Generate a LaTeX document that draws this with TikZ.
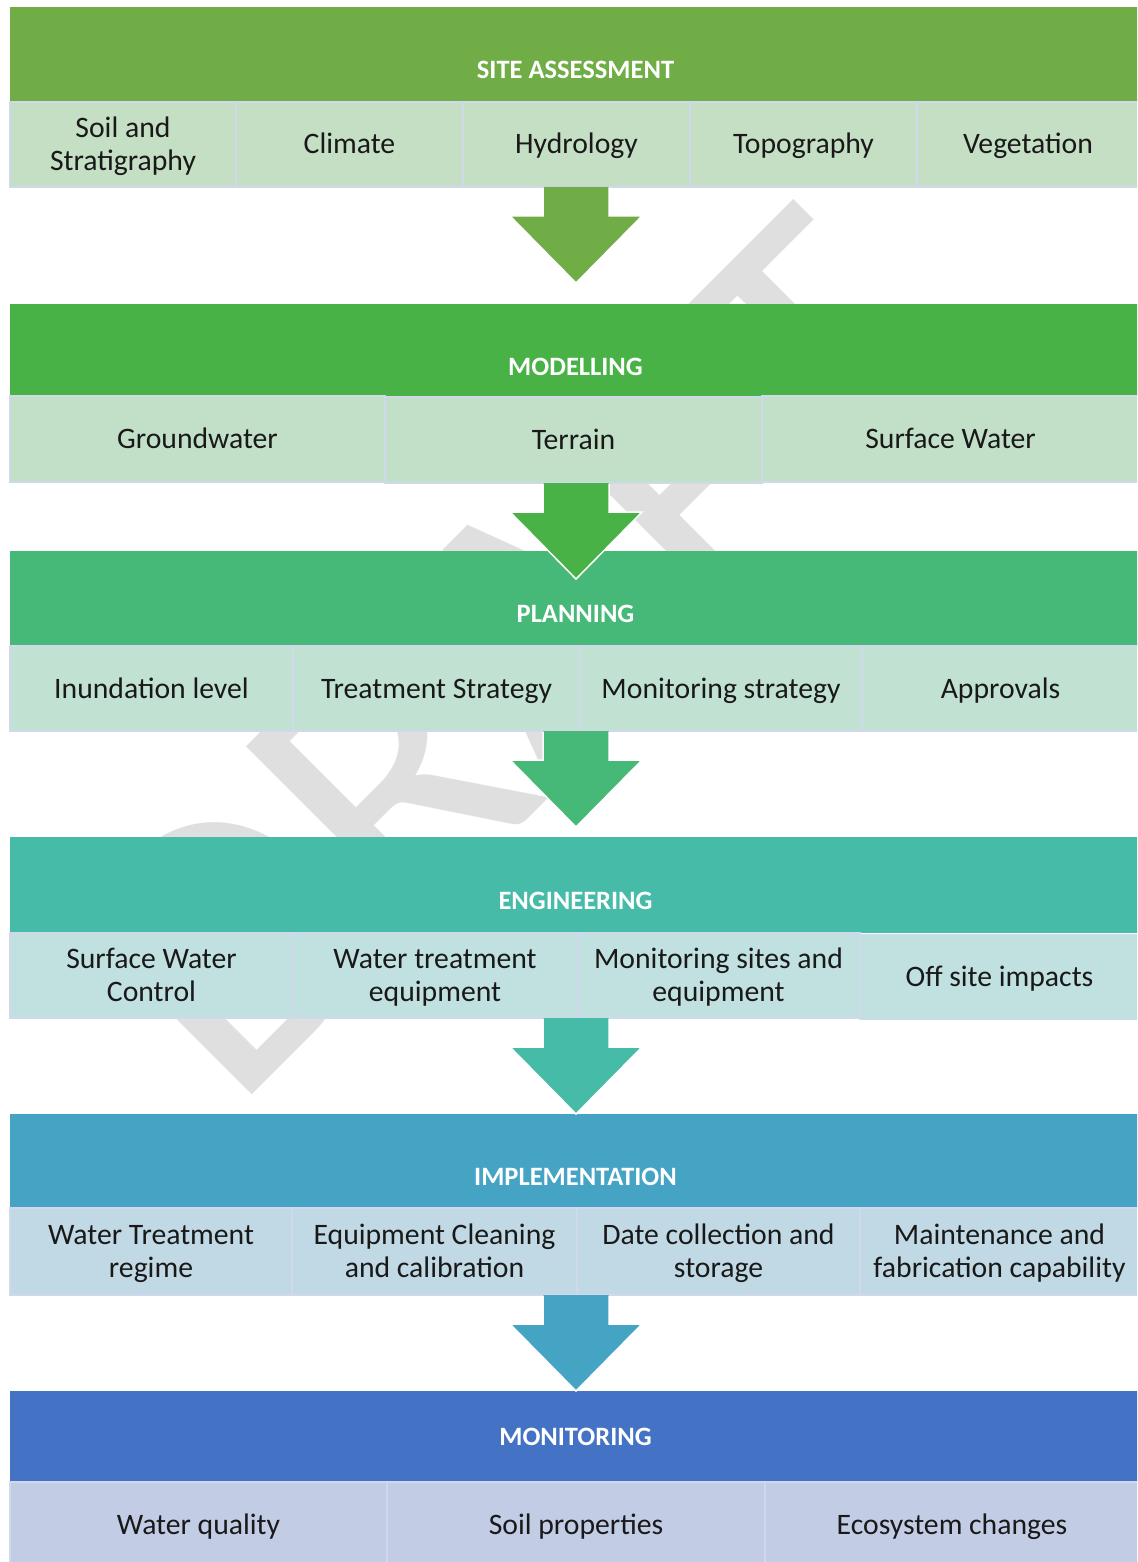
\documentclass[tikz,border=0pt]{standalone}
\usepackage{fontspec}
\setmainfont{Carlito}
\usetikzlibrary{calc}
\definecolor{h1}{HTML}{70AD47}
\definecolor{h2}{HTML}{48B247}
\definecolor{h3}{HTML}{46B878}
\definecolor{h4}{HTML}{46BBA8}
\definecolor{h5}{HTML}{45A3C4}
\definecolor{h6}{HTML}{4472C4}
\definecolor{c1}{HTML}{C5DFC4}
\definecolor{c2}{HTML}{C2E0C7}
\definecolor{c3}{HTML}{C1E2D2}
\definecolor{c4}{HTML}{C1E0E0}
\definecolor{c5}{HTML}{C1D9E4}
\definecolor{c6}{HTML}{C2CDE5}
\definecolor{cellline}{HTML}{D0D8EB}
\definecolor{wm}{HTML}{DFDFDF}
\newcommand\celltext{\fontsize{29.7}{32.5}\selectfont}
\newcommand\hdrtext{\fontsize{26.5}{30}\selectfont\bfseries}
\newcommand\wmtext{\fontsize{390}{390}\selectfont}
\newcommand\cs{\rule[-6.5pt]{0pt}{32pt}}
\tikzset{
  cell/.style={draw=cellline, line width=1.2pt, inner sep=0pt, align=center, font=\celltext, text=black!90},
  hdr/.style={draw=none, inner sep=0pt, anchor=north west, minimum width=1140},
  hdrtitle/.style={text=white, font=\hdrtext, inner sep=0pt, text height=17pt, text depth=0pt},
}
\newcommand\flowarrow[2]{%
  \fill[#1] ($(#2)+(-33,0)$) -- ($(#2)+(-33,29)$) -- ($(#2)+(-66,29)$) -- ($(#2)+(0,96)$) -- ($(#2)+(66,29)$) -- ($(#2)+(33,29)$) -- ($(#2)+(33,0)$) -- cycle;
  \draw[white, line width=1.5pt, line join=miter] ($(#2)+(-33,0.5)$) -- ($(#2)+(-33,29)$) -- ($(#2)+(-66,29)$) -- ($(#2)+(0,96)$) -- ($(#2)+(66,29)$) -- ($(#2)+(33,29)$) -- ($(#2)+(33,0.5)$);
}
\begin{document}
\begin{tikzpicture}[x=1pt, y=-1pt]
\useasboundingbox (0,0) rectangle (1137,1562);
\clip (0,0) rectangle (1137,1562);
\fill[white] (0,0) rectangle (1137,1562);
% watermark
\node[rotate=45, text=wm, font=\wmtext, inner sep=0pt] (wmark) at (515,655) {DRAFT};
% headers
\node[hdr, fill=h1, minimum height=95] (H1) at (10,7) {};
\node[hdr, fill=h2, minimum height=92] (H2) at (10,304) {};
\node[hdr, fill=h3, minimum height=95] (H3) at (10,551) {};
\node[hdr, fill=h4, minimum height=96] (H4) at (10,837) {};
\node[hdr, fill=h5, minimum height=94] (H5) at (10,1114) {};
\node[hdr, fill=h6, minimum height=91] (H6) at (10,1391) {};
\node[hdrtitle] (T1) at (575.5,70) {SITE ASSESSMENT};
\node[hdrtitle] (T2) at (575.5,367) {MODELLING};
\node[hdrtitle] (T3) at (575.5,614) {PLANNING};
\node[hdrtitle] (T4) at (575.5,901) {ENGINEERING};
\node[hdrtitle] (T5) at (575.5,1177) {IMPLEMENTATION};
\node[hdrtitle] (T6) at (575.5,1437) {MONITORING};
% row 1
\node[cell, fill=c1, minimum width=226, minimum height=85] (r1a) at (123,144.5) {\cs Soil and\\\cs Stratigraphy};
\node[cell, fill=c1, minimum width=227, minimum height=85] (r1b) at (349.5,144.5) {\cs Climate};
\node[cell, fill=c1, minimum width=227, minimum height=85] (r1c) at (576.5,144.5) {\cs Hydrology};
\node[cell, fill=c1, minimum width=227, minimum height=85] (r1d) at (803.5,144.5) {\cs Topography};
\node[cell, fill=c1, minimum width=222, minimum height=85] (r1e) at (1028,144.5) {\cs Vegetation};
% row 2
\node[cell, fill=c2, minimum width=375, minimum height=86] (r2a) at (197.5,439) {\cs Groundwater};
\node[cell, fill=c2, minimum width=377, minimum height=86] (r2b) at (573.5,440) {\cs Terrain};
\node[cell, fill=c2, minimum width=377, minimum height=86] (r2c) at (950.5,439) {\cs Surface Water};
% row 3
\node[cell, fill=c3, minimum width=283, minimum height=85] (r3a) at (151.5,688.5) {\cs Inundation level};
\node[cell, fill=c3, minimum width=287, minimum height=85] (r3b) at (436.5,688.5) {\cs Treatment Strategy};
\node[cell, fill=c3, minimum width=282, minimum height=85] (r3c) at (721,688.5) {\cs Monitoring strategy};
\node[cell, fill=c3, minimum width=277, minimum height=85] (r3d) at (1000.5,688.5) {\cs Approvals};
% row 4
\node[cell, fill=c4, minimum width=283, minimum height=85] (r4a) at (151.5,975.5) {\cs Surface Water\\\cs Control};
\node[cell, fill=c4, minimum width=284, minimum height=85] (r4b) at (435,975.5) {\cs Water treatment\\\cs equipment};
\node[cell, fill=c4, minimum width=283, minimum height=85] (r4c) at (718.5,975.5) {\cs Monitoring sites and\\\cs equipment};
\node[cell, fill=c4, minimum width=279, minimum height=85] (r4d) at (999.5,977) {\cs Off site impacts};
% row 5
\node[cell, fill=c5, minimum width=282, minimum height=87] (r5a) at (151,1251.5) {\cs Water Treatment\\\cs regime};
\node[cell, fill=c5, minimum width=285, minimum height=87] (r5b) at (434.5,1251.5) {\cs Equipment Cleaning\\\cs and calibration};
\node[cell, fill=c5, minimum width=283, minimum height=87] (r5c) at (718.5,1251.5) {\cs Date collection and\\\cs storage};
\node[cell, fill=c5, minimum width=279, minimum height=87] (r5d) at (999.5,1251.5) {\cs Maintenance and\\\cs fabrication capability};
% row 6
\node[cell, fill=c6, minimum width=377, minimum height=86] (r6a) at (198.5,1525) {\cs Water quality};
\node[cell, fill=c6, minimum width=378, minimum height=86] (r6b) at (576,1525) {\cs Soil properties};
\node[cell, fill=c6, minimum width=374, minimum height=86] (r6c) at (952,1525) {\cs Ecosystem changes};
% arrows
\coordinate (a1) at (576,187);
\coordinate (a2) at (576,483);
\coordinate (a3) at (576,731);
\coordinate (a4) at (576,1018);
\coordinate (a5) at (576,1295);
\flowarrow{h1}{a1}
\flowarrow{h2}{a2}
\flowarrow{h3}{a3}
\flowarrow{h4}{a4}
\flowarrow{h5}{a5}
\end{tikzpicture}
\end{document}
